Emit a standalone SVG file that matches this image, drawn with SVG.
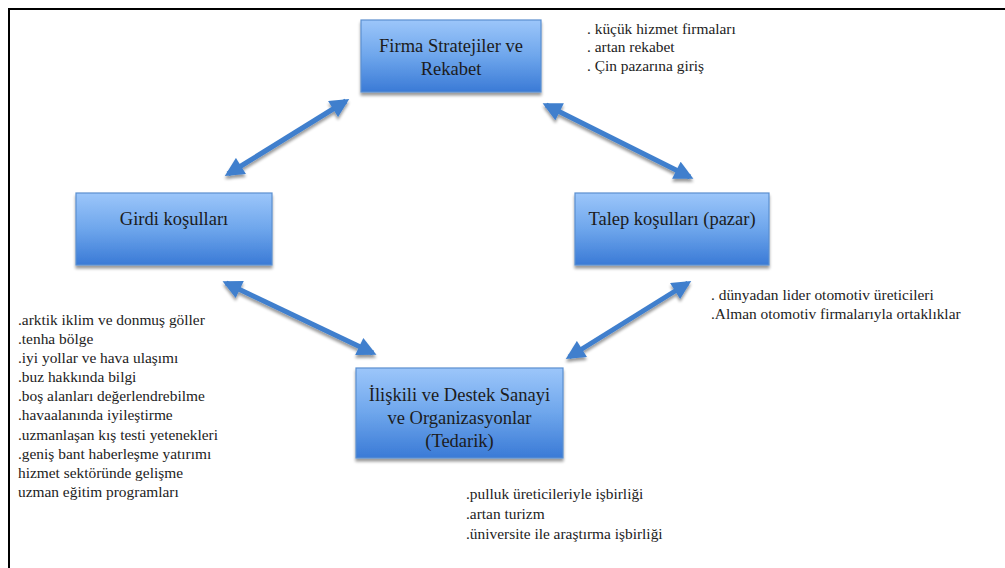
<svg xmlns="http://www.w3.org/2000/svg" width="1005" height="568" viewBox="0 0 1005 568">
  <style>
    .box { fill: url(#boxFill); stroke: #5a8fd0; stroke-width: 1.2; filter: url(#shadow); }
    .label { font-family: "Liberation Serif", "Times New Roman", serif; font-size: 18.5px; fill: #1c1c1c; text-anchor: middle; }
    .note { font-family: "Liberation Serif", "Times New Roman", serif; font-size: 15.4px; fill: #222; }
    .link { fill: none; stroke: #3f7fcd; stroke-width: 5; marker-start: url(#head); marker-end: url(#head); filter: url(#shadow); }
  </style>
  <defs>
    <linearGradient id="boxFill" x1="0" y1="0" x2="0" y2="1">
      <stop offset="0" stop-color="#9cc6fa"/>
      <stop offset="0.5" stop-color="#6ea6ec"/>
      <stop offset="1" stop-color="#3a7ad6"/>
    </linearGradient>
    <filter id="shadow" x="-20%" y="-20%" width="140%" height="150%">
      <feGaussianBlur in="SourceAlpha" stdDeviation="1.6"/>
      <feOffset dx="0" dy="2.5" result="b"/>
      <feComponentTransfer><feFuncA type="linear" slope="0.4"/></feComponentTransfer>
      <feMerge><feMergeNode/><feMergeNode in="SourceGraphic"/></feMerge>
    </filter>
    <marker id="head" viewBox="0 0 10 10" refX="8" refY="5" markerWidth="21" markerHeight="19" markerUnits="userSpaceOnUse" orient="auto-start-reverse">
      <path d="M0,0 L10,5 L0,10 Z" fill="#3f7fcd"/>
    </marker>
  </defs>

  <rect width="1005" height="568" fill="#ffffff"/>
  <!-- page frame -->
  <path d="M9,568 V9 H1005" fill="none" stroke="#000" stroke-width="2"/>

  <!-- connectors -->
  <g id="connectors">
    <line class="link" x1="228" y1="174" x2="346" y2="101"/>
    <line class="link" x1="546" y1="105" x2="690" y2="177"/>
    <line class="link" x1="226" y1="283" x2="373" y2="353"/>
    <line class="link" x1="688" y1="283" x2="569" y2="357"/>
  </g>

  <g id="firma">
    <rect class="box" x="361" y="20" width="180" height="72"/>
    <text class="label" x="451" y="52">Firma Stratejiler ve</text>
    <text class="label" x="451" y="75">Rekabet</text>
  </g>

  <g id="girdi">
    <rect class="box" x="76" y="193" width="196" height="72"/>
    <text class="label" x="174" y="225">Girdi koşulları</text>
  </g>

  <g id="talep">
    <rect class="box" x="575" y="193" width="194" height="72"/>
    <text class="label" x="672" y="225">Talep koşulları (pazar)</text>
  </g>

  <g id="iliskili">
    <rect class="box" x="356" y="368" width="207" height="90"/>
    <text class="label" x="459.5" y="401">İlişkili ve Destek Sanayi</text>
    <text class="label" x="459.5" y="424">ve Organizasyonlar</text>
    <text class="label" x="459.5" y="447">(Tedarik)</text>
  </g>

  <g id="notes-firma" class="note">
    <text x="587" y="34">. küçük hizmet firmaları</text>
    <text x="587" y="52">. artan rekabet</text>
    <text x="587" y="71">. Çin pazarına giriş</text>
  </g>

  <g id="notes-talep" class="note">
    <text x="711" y="300">. dünyadan lider otomotiv üreticileri</text>
    <text x="711" y="319">.Alman otomotiv firmalarıyla ortaklıklar</text>
  </g>

  <g id="notes-girdi" class="note">
    <text x="18" y="325">.arktik iklim ve donmuş göller</text>
    <text x="18" y="344">.tenha bölge</text>
    <text x="18" y="363">.iyi yollar ve hava ulaşımı</text>
    <text x="18" y="382">.buz hakkında bilgi</text>
    <text x="18" y="401">.boş alanları değerlendrebilme</text>
    <text x="18" y="420">.havaalanında iyileştirme</text>
    <text x="18" y="440">.uzmanlaşan kış testi yetenekleri</text>
    <text x="18" y="459">.geniş bant haberleşme yatırımı</text>
    <text x="18" y="478">hizmet sektöründe gelişme</text>
    <text x="18" y="497">uzman eğitim programları</text>
  </g>

  <g id="notes-iliskili" class="note">
    <text x="466" y="499">.pulluk üreticileriyle işbirliği</text>
    <text x="466" y="519">.artan turizm</text>
    <text x="466" y="539">.üniversite ile araştırma işbirliği</text>
  </g>
</svg>
